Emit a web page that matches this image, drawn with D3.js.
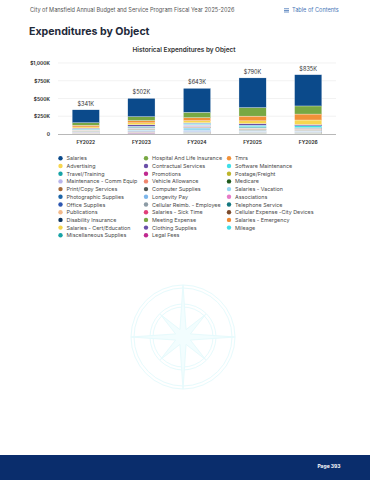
<!DOCTYPE html>
<html>
<head>
<meta charset="utf-8">
<script src="https://cdn.jsdelivr.net/npm/d3@7"></script>
<style>
  body { margin: 0; background: #fff; }
  svg { display: block; font-family: Inter, "Open Sans", sans-serif; }
</style>
</head>
<body>
<svg id="page" width="370" height="480"></svg>
<script>
var years = ['FY2022', 'FY2023', 'FY2024', 'FY2025', 'FY2026'];
var yTicks = [0, 250, 500, 750, 1000];

var seriesNames = [
  'Salaries', 'Hospital And Life Insurance', 'Tmrs',
  'Advertising', 'Contractual Services', 'Software Maintenance',
  'Travel/Training', 'Promotions', 'Postage/Freight',
  'Maintenance - Comm Equip', 'Vehicle Allowance', 'Medicare',
  'Print/Copy Services', 'Computer Supplies', 'Salaries - Vacation',
  'Photographic Supplies', 'Longevity Pay', 'Associations',
  'Office Supplies', 'Cellular Reimb. - Employee', 'Telephone Service',
  'Publications', 'Salaries - Sick Time', 'Cellular Expense -City Devices',
  'Disability Insurance', 'Meeting Expense', 'Salaries - Emergency',
  'Salaries - Cert/Education', 'Clothing Supplies', 'Mileage',
  'Miscellaneous Supplies', 'Legal Fees'
];

var seriesColors = [
  '#0b4a8b', '#78a843', '#f29138',
  '#f7d650', '#6a4fa8', '#3fdfe8',
  '#17a3a6', '#c0288f', '#bdb52b',
  '#b9b5ea', '#f0866e', '#1e5a1c',
  '#a66b3a', '#525a55', '#94d6f0',
  '#1d66a8', '#7db6ea', '#e67ac7',
  '#2d56b0', '#8c9ba5', '#13777f',
  '#f3ba8b', '#e13f79', '#7b4a2b',
  '#0d3560', '#78a843', '#f08a33',
  '#f3d44c', '#6a4fa8', '#3fdfe8',
  '#17a3a6', '#c0288f'
];

// values in $K, one row per series, FY2022..FY2026
var seriesValues = [
  [182, 258, 338, 418, 440],
  [36, 55, 75, 120, 114],
  [24, 32, 42, 67, 84],
  [16, 26, 30, 38, 64],
  [12, 22, 8, 24, 18],
  [4, 6, 14, 20, 22],
  [8, 12, 8, 14, 12],
  [3, 4, 3, 5, 4],
  [2, 3, 2, 3, 3],
  [5, 8, 22, 10, 6],
  [6, 6, 6, 6, 6],
  [3, 4, 5, 6, 6],
  [2, 3, 2, 3, 3],
  [2, 4, 3, 4, 3],
  [5, 10, 30, 12, 10],
  [1, 1, 1, 1, 1],
  [2, 3, 18, 4, 4],
  [2, 3, 3, 3, 3],
  [3, 4, 4, 4, 4],
  [2, 2, 2, 2, 2],
  [3, 4, 4, 4, 4],
  [1, 1, 1, 1, 1],
  [3, 4, 6, 5, 5],
  [2, 2, 2, 2, 2],
  [1, 2, 2, 2, 2],
  [2, 2, 2, 2, 2],
  [1, 1, 1, 1, 1],
  [2, 3, 3, 4, 4],
  [1, 1, 1, 1, 1],
  [1, 1, 1, 1, 1],
  [2, 3, 2, 2, 2],
  [2, 12, 2, 1, 1]
];

var svg = d3.select('#page');

// watermark compass, very faint
var wm = svg.append('g').attr('transform', 'translate(183,337)')
  .attr('fill', 'none').attr('stroke', '#e6fafc').attr('stroke-width', 1);
[52, 49, 33, 30].forEach(function(r) { wm.append('circle').attr('r', r); });
wm.append('circle').attr('r', 6);
var star = [];
for (var i = 0; i < 16; i++) {
  var a = i * Math.PI / 8 - Math.PI / 2;
  var r = i % 4 === 0 ? 52 : (i % 2 === 0 ? 32 : 8);
  star.push([Math.cos(a) * r, Math.sin(a) * r]);
}
wm.append('path').attr('d', d3.line()(star) + 'Z').attr('fill', '#f2fdfe');

// page header
svg.append('text').attr('x', 30).attr('y', 12).attr('font-size', 5.6).attr('fill', '#555')
  .text('City of Mansfield Annual Budget and Service Program Fiscal Year 2025-2026');
var toc = svg.append('g').attr('fill', '#4a78b8');
[0, 1.6, 3.2].forEach(function(d) {
  toc.append('rect').attr('x', 284).attr('y', 8.4 + d).attr('width', 5).attr('height', 0.8);
});
toc.append('text').attr('x', 292).attr('y', 12).attr('font-size', 5.6).text('Table of Contents');

svg.append('text').attr('x', 29).attr('y', 35).attr('font-size', 10.6).attr('font-weight', 700)
  .attr('fill', '#1f2a3a').text('Expenditures by Object');

svg.append('text').attr('x', 184).attr('y', 52).attr('text-anchor', 'middle')
  .attr('font-size', 6.4).attr('font-weight', 600).attr('fill', '#333')
  .text('Historical Expenditures by Object');

// chart
var x = d3.scaleBand().domain(years).range([58, 336]).paddingInner(0.51).paddingOuter(0.255);
var y = d3.scaleLinear().domain([0, 1000]).range([134, 63]);

var rows = years.map(function(yr, j) {
  var row = { year: yr };
  seriesNames.forEach(function(n, k) { row[n] = seriesValues[k][j]; });
  return row;
});

svg.append('g').selectAll('line').data(yTicks.slice(1)).join('line')
  .attr('x1', 58).attr('x2', 336)
  .attr('y1', function(d) { return y(d); }).attr('y2', function(d) { return y(d); })
  .attr('stroke', '#e9e9e9').attr('stroke-width', 0.6);

var yAxis = svg.append('g').attr('transform', 'translate(53,0)')
  .call(d3.axisLeft(y).tickValues(yTicks).tickSize(0)
    .tickFormat(function(d) { return d === 0 ? '0' : '$' + d3.format(',')(d) + 'K'; }));
yAxis.select('.domain').remove();
yAxis.selectAll('text').attr('font-size', 4.8).attr('font-weight', 700).attr('fill', '#333')
  .attr('font-family', 'Inter, sans-serif');

// first series sits on top, so stack in reverse
var stack = d3.stack().keys(seriesNames.slice().reverse());
var layers = stack(rows);

svg.append('g').selectAll('g').data(layers).join('g')
  .attr('fill', function(d) { return seriesColors[seriesNames.indexOf(d.key)]; })
  .selectAll('rect').data(function(d) { return d; }).join('rect')
  .attr('x', function(d) { return x(d.data.year); })
  .attr('width', x.bandwidth())
  .attr('y', function(d) { return y(d[1]); })
  .attr('height', function(d) { return Math.max(0, y(d[0]) - y(d[1])); })
  .attr('stroke', '#fff').attr('stroke-width', 0.3);

svg.append('line').attr('x1', 58).attr('x2', 336).attr('y1', 134.5).attr('y2', 134.5)
  .attr('stroke', '#999').attr('stroke-width', 0.7);

var totals = rows.map(function(r) { return d3.sum(seriesNames, function(n) { return r[n]; }); });
svg.append('g').selectAll('text').data(years).join('text')
  .attr('x', function(d) { return x(d) + x.bandwidth() / 2; })
  .attr('y', function(d, j) { return y(totals[j]) - 4; })
  .attr('text-anchor', 'middle').attr('font-size', 5.6).attr('fill', '#333')
  .text(function(d, j) { return '$' + Math.round(totals[j]) + 'K'; });

var xAxis = svg.append('g').attr('transform', 'translate(0,134)')
  .call(d3.axisBottom(x).tickSize(0).tickPadding(7));
xAxis.select('.domain').remove();
xAxis.selectAll('text').attr('font-size', 4.8).attr('font-weight', 700).attr('fill', '#333')
  .attr('font-family', 'Inter, sans-serif');

// legend
var colX = [60.5, 146, 229];
var legend = svg.append('g').selectAll('g').data(seriesNames).join('g')
  .attr('transform', function(d, i) {
    return 'translate(' + colX[i % 3] + ',' + (158.3 + Math.floor(i / 3) * 7.7) + ')';
  });
legend.append('circle').attr('r', 2.2)
  .attr('fill', function(d, i) { return seriesColors[i]; });
legend.append('text').attr('x', 6).attr('y', 2).attr('font-size', 5.4).attr('fill', '#4a4a4a')
  .text(function(d) { return d; });

// footer
svg.append('rect').attr('x', 0).attr('y', 455).attr('width', 370).attr('height', 25).attr('fill', '#0a2d6c');
svg.append('text').attr('x', 329).attr('y', 467.5).attr('text-anchor', 'middle')
  .attr('font-size', 5).attr('font-weight', 700).attr('fill', '#fff').text('Page 393');
</script>
</body>
</html>
